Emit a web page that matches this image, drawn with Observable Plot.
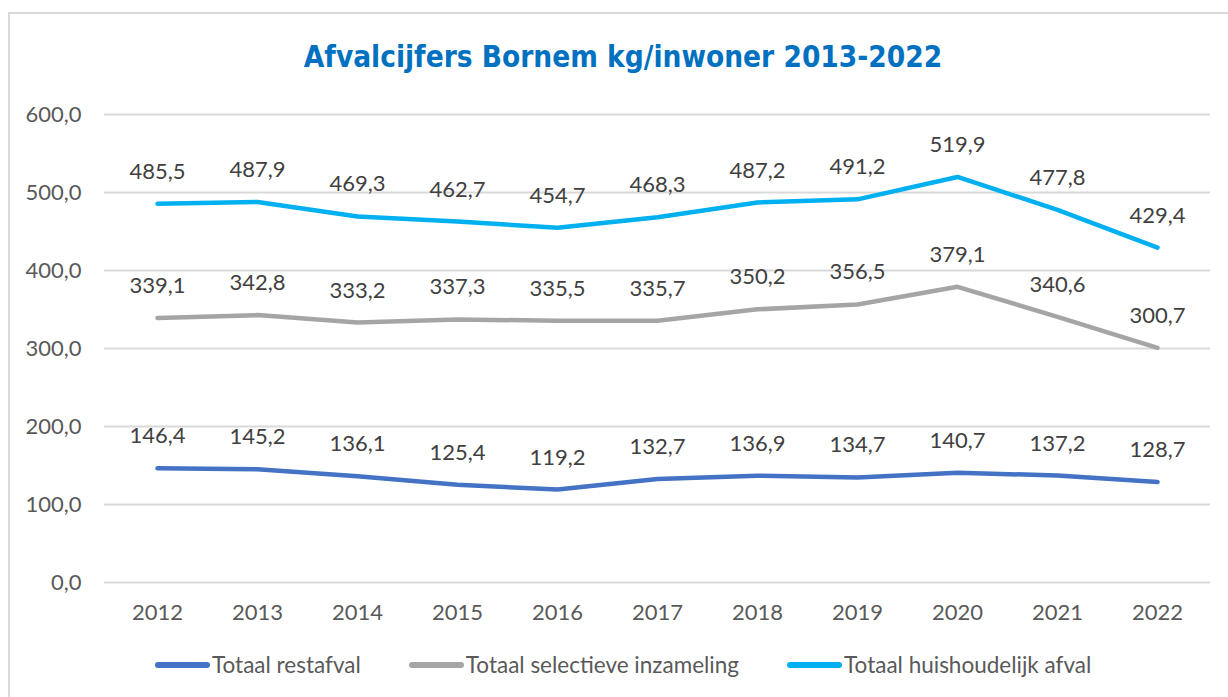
<!DOCTYPE html>
<html>
<head>
<meta charset="utf-8">
<script src="https://cdn.jsdelivr.net/npm/d3@7"></script>
<script src="https://cdn.jsdelivr.net/npm/@observablehq/plot@0.6"></script>
<style>
  html, body { margin: 0; padding: 0; background: #fff; width: 1228px; height: 697px; overflow: hidden; }
  #frame { position: absolute; left: 8px; top: 12px; width: 1400px; height: 900px; border-left: 2px solid #d9d9d9; border-top: 2px solid #d9d9d9; }
  #title { position: absolute; left: 0; width: 1246px; top: 40px; text-align: center; font-family: "DejaVu Sans Condensed", "DejaVu Sans", sans-serif; font-weight: bold; font-size: 29.5px; color: #0070C0; white-space: nowrap; }
  #chart { position: absolute; left: 0; top: 0; }
  #legend { position: absolute; top: 651px; left: 155px; display: flex; align-items: center; font-family: Lato, sans-serif; font-size: 22.5px; color: #595959; white-space: nowrap; }
  .item { display: flex; align-items: center; margin-right: 48px; }
  .sw { width: 55px; height: 6px; border-radius: 3px; margin-right: 2px; }
</style>
</head>
<body>
<div id="frame"></div>
<div id="title">Afvalcijfers Bornem kg/inwoner 2013-2022</div>
<div id="chart"></div>
<div id="legend"></div>
<script>
const years = ["2012","2013","2014","2015","2016","2017","2018","2019","2020","2021","2022"];
const restafval = [146.4,145.2,136.1,125.4,119.2,132.7,136.9,134.7,140.7,137.2,128.7];
const selectief = [339.1,342.8,333.2,337.3,335.5,335.7,350.2,356.5,379.1,340.6,300.7];
const huishoudelijk = [485.5,487.9,469.3,462.7,454.7,468.3,487.2,491.2,519.9,477.8,429.4];
const seriesNames = ["Totaal restafval","Totaal selectieve inzameling","Totaal huishoudelijk afval"];
const seriesColors = ["#4472C4","#A5A5A5","#00B0F0"];
const yTicks = [0,100,200,300,400,500,600];

const allSeries = [restafval, selectief, huishoudelijk];
const data = [];
allSeries.forEach((vals, s) => vals.forEach((v, i) => data.push({year: years[i], value: v, series: seriesNames[s]})));

const fmt = v => v.toFixed(1).replace(".", ",");

const chart = Plot.plot({
  width: 1228,
  height: 640,
  marginLeft: 104,
  marginRight: 18,
  marginTop: 114,
  marginBottom: 58,
  style: {fontFamily: "Lato, sans-serif", fontSize: "22px", color: "#595959", background: "transparent"},
  x: {type: "point", domain: years, padding: 0.5, label: null},
  y: {domain: [0, 600], label: null},
  color: {domain: seriesNames, range: seriesColors},
  marks: [
    Plot.ruleY(yTicks, {stroke: "#d9d9d9", strokeWidth: 2}),
    Plot.axisY({ticks: yTicks, tickSize: 0, tickPadding: 23, tickFormat: fmt, label: null, fill: "#595959"}),
    Plot.axisX({tickSize: 0, tickPadding: 22, label: null, fill: "#595959"}),
    Plot.line(data, {x: "year", y: "value", z: "series", stroke: "series", strokeWidth: 4.5, strokeLinecap: "round", strokeLinejoin: "round"}),
    Plot.text(data, {x: "year", y: "value", text: d => fmt(d.value), dy: -32, fill: "#404040", fontSize: 22})
  ]
});
document.getElementById("chart").appendChild(chart);

const legend = document.getElementById("legend");
seriesNames.forEach((n, i) => {
  const it = document.createElement("div");
  it.className = "item";
  const sw = document.createElement("div");
  sw.className = "sw";
  sw.style.background = seriesColors[i];
  const t = document.createElement("span");
  t.textContent = n;
  it.appendChild(sw); it.appendChild(t);
  legend.appendChild(it);
});
</script>
</body>
</html>
